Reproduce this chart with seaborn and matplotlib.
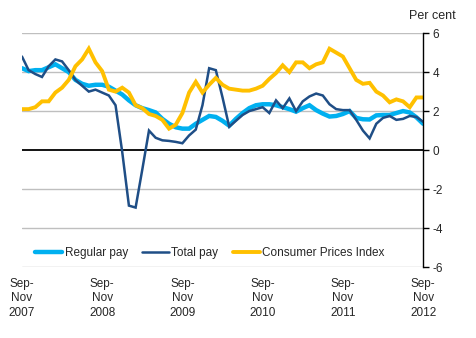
import matplotlib
matplotlib.use("Agg")
import matplotlib.pyplot as plt
import seaborn as sns
import pandas as pd
import numpy as np

# Three-month periods, Sep-Nov 2007 to Sep-Nov 2012 (monthly steps)
tick_labels = ["Sep-\nNov\n2007", "Sep-\nNov\n2008", "Sep-\nNov\n2009",
               "Sep-\nNov\n2010", "Sep-\nNov\n2011", "Sep-\nNov\n2012"]

regular_pay = [4.2, 4.05, 4.1, 4.1, 4.25, 4.4, 4.2, 4.0, 3.6, 3.4,
               3.3, 3.35, 3.35, 3.25, 3.05, 2.85, 2.55, 2.3, 2.15, 2.05,
               1.93, 1.6, 1.35, 1.17, 1.1, 1.1, 1.35, 1.55, 1.75, 1.7,
               1.5, 1.25, 1.6, 1.9, 2.15, 2.3, 2.35, 2.35, 2.3, 2.2,
               2.1, 1.97, 2.15, 2.3, 2.05, 1.87, 1.72, 1.75, 1.85, 2.0,
               1.65, 1.58, 1.57, 1.78, 1.8, 1.8, 1.9, 2.0, 1.93, 1.68,
               1.35]

total_pay = [4.8, 4.1, 3.9, 3.75, 4.3, 4.65, 4.55, 4.1, 3.6, 3.3,
             3.0, 3.1, 2.95, 2.8, 2.3, -0.1, -2.85, -2.95, -1.0, 1.0,
             0.63, 0.5, 0.47, 0.42, 0.35, 0.75, 1.05, 2.3, 4.2, 4.1,
             2.7, 1.2, 1.5, 1.8, 2.0, 2.1, 2.2, 1.9, 2.55, 2.15,
             2.65, 2.0, 2.5, 2.75, 2.9, 2.8, 2.35, 2.1, 2.05, 2.05,
             1.55, 1.0, 0.6, 1.35, 1.65, 1.75, 1.55, 1.6, 1.75, 1.7,
             1.45]

cpi = [2.1, 2.1, 2.2, 2.5, 2.5, 2.95, 3.2, 3.6, 4.3, 4.65,
       5.2, 4.5, 4.05, 3.1, 3.0, 3.2, 2.95, 2.3, 2.15, 1.85,
       1.75, 1.55, 1.1, 1.3, 1.9, 2.95, 3.5, 2.95, 3.35, 3.7,
       3.35, 3.15, 3.1, 3.05, 3.05, 3.15, 3.3, 3.65, 3.95, 4.35,
       4.0, 4.5, 4.5, 4.2, 4.4, 4.5, 5.2, 5.0, 4.8, 4.2,
       3.6, 3.4, 3.45, 3.0, 2.8, 2.45, 2.6, 2.5, 2.2, 2.7,
       2.7]

series_names = ["Regular pay", "Total pay", "Consumer Prices Index"]
colors = ["#00B0F0", "#1F4E86", "#FFC000"]
widths = [3.2, 1.8, 2.8]

n = len(cpi)
df = pd.DataFrame({
    "period": np.tile(np.arange(n), 3),
    "value": regular_pay + total_pay + cpi,
    "series": np.repeat(series_names, n),
})

sns.set_style("white")
plt.rcParams["font.family"] = ["Liberation Sans", "DejaVu Sans"]

fig = plt.figure(figsize=(4.77, 3.38), dpi=100)
ax = fig.add_axes([0.046, 0.21, 0.841, 0.692])

for name, c, lw in zip(series_names, colors, widths):
    sns.lineplot(data=df[df["series"] == name], x="period", y="value",
                 color=c, linewidth=lw, label=name, ax=ax,
                 solid_joinstyle="miter")

ax.set_xlim(0, n - 1)
ax.set_ylim(-6, 6)
ax.set_yticks(np.arange(-6, 7, 2))
ax.set_yticklabels([str(v) for v in range(-6, 7, 2)], fontsize=8.5)
ax.yaxis.tick_right()
ax.tick_params(axis="y", direction="out", length=4, width=1, color="black",
               pad=3, right=True, left=False)
for v in range(-6, 7, 2):
    if v != 0:
        ax.axhline(v, color="#BFBFBF", linewidth=1, zorder=0)
ax.axhline(0, color="black", linewidth=1.3, zorder=1)

ax.set_xticks(np.arange(0, n, 12))
ax.set_xticklabels(tick_labels, fontsize=8.5, linespacing=1.25)
ax.tick_params(axis="x", length=0, pad=8)
ax.set_xlabel("")
ax.set_ylabel("")

for s in ["top", "left", "bottom"]:
    ax.spines[s].set_visible(False)
ax.spines["right"].set_color("black")
ax.spines["right"].set_linewidth(1)

fig.text(0.955, 0.952, "Per cent", ha="right", va="center", fontsize=9)

leg = ax.legend(loc="lower left", bbox_to_anchor=(0.012, 0.0), ncol=3,
                frameon=False, fontsize=8.5, handlelength=2.3,
                handletextpad=0.2, columnspacing=1.2, borderaxespad=0.3)

fig.savefig("out.png", dpi=100)
